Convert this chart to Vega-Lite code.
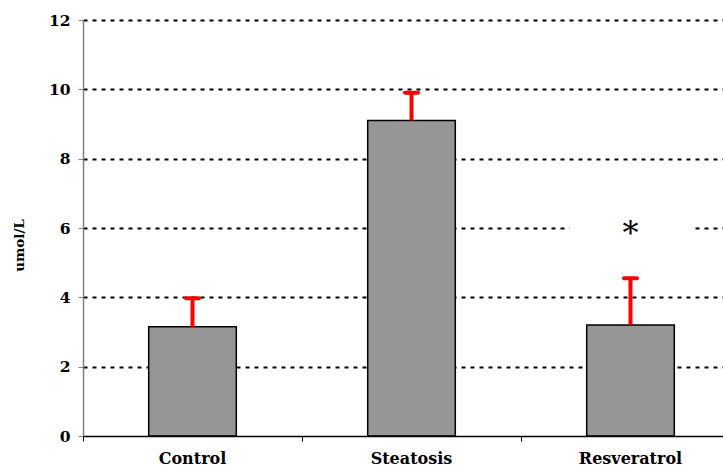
{
  "$schema": "https://vega.github.io/schema/vega-lite/v6.json",
  "autosize": {"type": "none"},
  "width": 640,
  "height": 416,
  "padding": {"left": 83, "top": 20, "right": 0, "bottom": 38},
  "background": "white",
  "data": {"values": [
    {"group": "Control", "value": 3.15, "upper": 3.97, "star": null, "mark": ""},
    {"group": "Steatosis", "value": 9.1, "upper": 9.9, "star": null, "mark": ""},
    {"group": "Resveratrol", "value": 3.2, "upper": 4.55, "star": 6, "mark": "*"}
  ]},
  "config": {
    "view": {"stroke": null},
    "font": "DejaVu Serif",
    "axis": {"labelFont": "DejaVu Serif", "titleFont": "DejaVu Serif", "labelFontWeight": "bold", "titleFontWeight": "bold", "labelColor": "black", "titleColor": "black"}
  },
  "encoding": {
    "x": {
      "field": "group", "type": "nominal", "sort": null,
      "scale": {"range": [0, 657], "paddingInner": 0, "paddingOuter": 0},
      "axis": {"title": null, "labelAngle": 0, "labelFontSize": 16, "labelPadding": 9, "bandPosition": 0, "tickSize": 5, "tickColor": "black", "domainColor": "black", "domainWidth": 1.5, "grid": false, "zindex": 1}
    }
  },
  "layer": [
    {
      "mark": {"type": "bar", "color": "#969696", "stroke": "black", "strokeWidth": 1.5, "width": {"band": 0.4}},
      "encoding": {
        "y": {
          "field": "value", "type": "quantitative",
          "scale": {"domain": [0, 12], "nice": false},
          "axis": {"title": "umol/L", "titleFontSize": 13.5, "titlePadding": 22, "titleY": 225, "labelFontSize": 15.5, "labelPadding": 8, "values": [0, 2, 4, 6, 8, 10, 12], "tickSize": 5, "tickColor": "#808080", "domainColor": "#808080", "domainWidth": 1.5, "grid": true, "gridColor": "black", "gridDash": [4, 5], "gridWidth": 2, "gridOpacity": {"condition": {"test": "datum.value === 0", "value": 0}, "value": 1}}
        }
      }
    },
    {
      "mark": {"type": "rule", "color": "#ff0000", "strokeWidth": 4},
      "encoding": {"y": {"field": "value", "type": "quantitative"}, "y2": {"field": "upper"}}
    },
    {
      "mark": {"type": "tick", "color": "#ff0000", "thickness": 4, "size": 17, "orient": "horizontal", "opacity": 1, "cornerRadius": 2},
      "encoding": {"y": {"field": "upper", "type": "quantitative"}}
    },
    {
      "transform": [{"filter": "datum.star != null"}],
      "mark": {"type": "tick", "color": "white", "thickness": 6, "size": 122, "orient": "horizontal", "opacity": 1},
      "encoding": {"y": {"field": "star", "type": "quantitative"}}
    },
    {
      "transform": [{"filter": "datum.star != null"}],
      "mark": {"type": "text", "fontSize": 32, "font": "DejaVu Serif", "baseline": "middle", "dy": 6, "color": "black"},
      "encoding": {"y": {"field": "star", "type": "quantitative"}, "text": {"field": "mark"}}
    }
  ]
}
